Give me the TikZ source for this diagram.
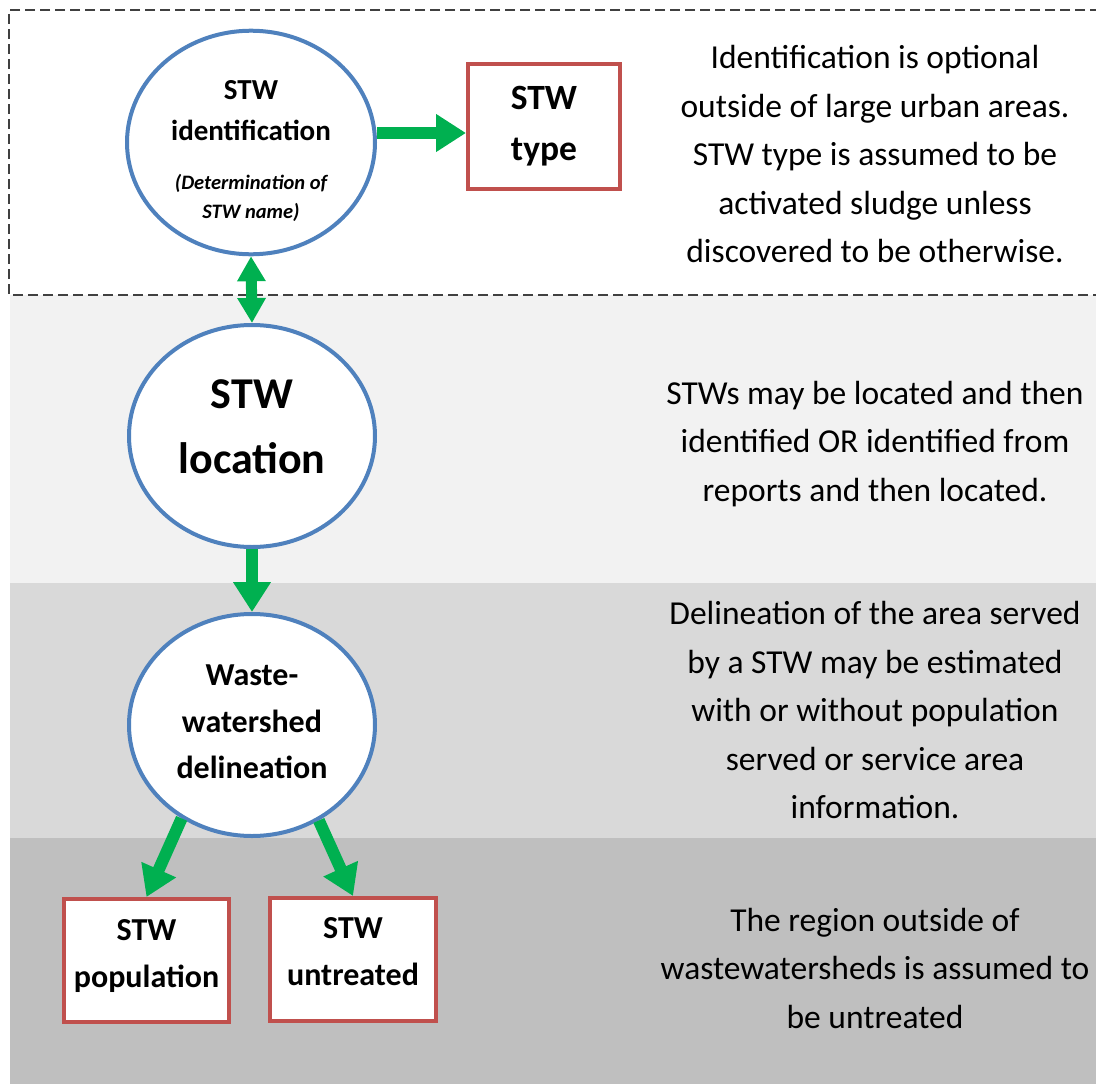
\documentclass[tikz,border=0pt]{standalone}
\usepackage{fontspec}
\setmainfont{Carlito}
\usetikzlibrary{shapes.geometric,arrows.meta}
\definecolor{stwblue}{HTML}{4F81BD}
\definecolor{stwred}{HTML}{C0504D}
\definecolor{stwgreen}{HTML}{00B050}
\definecolor{bandA}{HTML}{F2F2F2}
\definecolor{bandB}{HTML}{D9D9D9}
\definecolor{bandC}{HTML}{BFBFBF}
\definecolor{frame}{HTML}{404040}
\newcommand\subtext{\bfseries\itshape\fontsize{20.5}{29}\selectfont}
% invisible struts that move a node's text block up or down
\newcommand\lifttext[1]{\rule[-#1]{0pt}{#1}}
\newcommand\droptext[1]{\rule{0pt}{#1}}
\begin{document}
\begin{tikzpicture}[x=1pt,y=-1pt,
  stage/.style={ellipse, draw=stwblue, line width=4pt, fill=white, inner sep=0pt, align=center},
  outcome/.style={rectangle, draw=stwred, line width=4pt, fill=white, inner sep=0pt, align=center},
  note/.style={align=center, font=\fontsize{33.5}{48.5}\selectfont},
  flow/.style={draw=stwgreen, line width=12pt, -{Triangle[length=30pt,width=36pt]}},
  link/.style={draw=stwgreen, line width=11pt, {Triangle[length=25pt,width=27pt]}-{Triangle[length=25pt,width=27pt]}}]

\useasboundingbox (0,0) rectangle (1096,1084);

% background bands
\fill[bandA] (10,295) rectangle (1096,583);
\fill[bandB] (10,583) rectangle (1096,838);
\fill[bandC] (10,838) rectangle (1096,1084);
\draw[frame, line width=1.2pt, dash pattern=on 10pt off 5pt] (1100,10) -- (9,10) -- (9,295) -- (1100,295);

% stages
\node[stage, minimum width=248pt, minimum height=219pt,
      font=\bfseries\fontsize{29}{41}\selectfont] (ident) at (251,142.5)
  {\droptext{36pt}STW\\identification\\[8pt]{\subtext (Determination of}\\[-12pt]{\subtext STW name)}};
\node[stage, minimum width=246pt, minimum height=222pt,
      font=\bfseries\fontsize{44}{65}\selectfont] (loc) at (252,436) {STW\\location\lifttext{18pt}};
\node[stage, minimum width=246pt, minimum height=222pt,
      font=\bfseries\fontsize{32}{46.5}\selectfont] (waste) at (252,725) {Waste-\\watershed\\delineation\lifttext{6pt}};

% outcomes
\node[outcome, minimum width=152pt, minimum height=125pt,
      font=\bfseries\fontsize{35.5}{51}\selectfont] (type) at (544,126.5) {STW\\type};
\node[outcome, minimum width=165pt, minimum height=123pt,
      font=\bfseries\fontsize{32}{47}\selectfont] (pop) at (146.5,960.5) {STW\\population\lifttext{14pt}};
\node[outcome, minimum width=166pt, minimum height=123pt,
      font=\bfseries\fontsize{32}{47}\selectfont] (untr) at (353,959.5) {STW\\untreated\lifttext{17pt}};

% connectors
\draw[flow] ([yshift=9.5pt]ident.east) -- ([yshift=-6.5pt]type.west);
\draw[link] (ident.south) -- (loc.north);
\draw[flow] (loc.south) -- (waste.north);
\draw[flow] (waste.233.7) -- (pop.north);
\draw[flow] (waste.305.5) -- (untr.north);

% notes
\node[note] (n1) at (875,154) {Identification is optional\\outside of large urban areas.\\STW type is assumed to be\\activated sludge unless\\discovered to be otherwise.};
\node[note] (n2) at (875,444) {STWs may be located and then\\identified OR identified from\\reports and then located.};
\node[note] (n3) at (875,710) {Delineation of the area served\\by a STW may be estimated\\with or without population\\served or service area\\information.};
\node[note] (n4) at (875,968) {The region outside of\\wastewatersheds is assumed to\\be untreated};
\end{tikzpicture}
\end{document}
